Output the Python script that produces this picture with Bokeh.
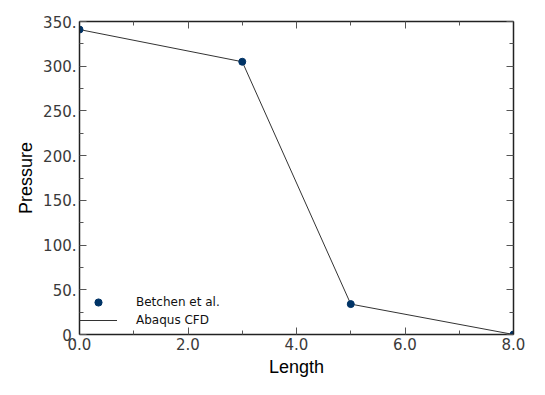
from bokeh.plotting import figure
from bokeh.models import (Range1d, LinearAxis, Legend, LegendItem,
                          PrintfTickFormatter, FixedTicker)
from bokeh.embed import file_html
from bokeh.resources import INLINE

length = [0.0, 3.0, 5.0, 8.0]
betchen = [341.0, 305.0, 34.0, 0.0]
abaqus = [341.0, 305.0, 34.0, 0.0]
x_ticks = [0, 2, 4, 6, 8]
x_minor = [1, 3, 5, 7]
y_ticks = [0, 50, 100, 150, 200, 250, 300, 350]
y_minor = [25, 75, 125, 175, 225, 275, 325]

p = figure(width=529, height=379, output_backend="svg", toolbar_location=None,
           x_range=Range1d(0, 8), y_range=Range1d(0, 350),
           min_border_left=79, min_border_right=16, min_border_top=21,
           min_border_bottom=44, x_axis_label="Length", y_axis_label="Pressure")
p.grid.visible = False
p.outline_line_color = None
p.background_fill_color = "white"

bottom = p.below[0]
left = p.left[0]

ln = p.line(length, abaqus, line_color="#333333", line_width=1)
sc = p.scatter(length, betchen, size=7, fill_color="#003366", line_color="#003366")

top = LinearAxis()
right = LinearAxis()
p.add_layout(top, "above")
p.add_layout(right, "right")

for ax in [bottom, top]:
    ax.ticker = FixedTicker(ticks=x_ticks, minor_ticks=x_minor)
    ax.formatter = PrintfTickFormatter(format="%.1f")
for ax in [left, right]:
    ax.ticker = FixedTicker(ticks=y_ticks, minor_ticks=y_minor)
    ax.formatter = PrintfTickFormatter(format="%d.")

for ax in [bottom, left, top, right]:
    ax.axis_line_color = "#222222"
    ax.axis_line_width = 1.5
    ax.major_tick_in = 7
    ax.major_tick_out = 0
    ax.minor_tick_in = 4
    ax.minor_tick_out = 0
    ax.major_tick_line_color = "#555555"
    ax.minor_tick_line_color = "#555555"
    ax.major_label_text_font = "DejaVu Sans"
    ax.major_label_text_font_size = "15px"
    ax.major_label_text_color = "#3a3a3a"
    ax.major_label_standoff = 3
    ax.axis_label_text_font = "Liberation Sans"
    ax.axis_label_text_font_size = "18px"
    ax.axis_label_text_font_style = "normal"
    ax.axis_label_text_color = "black"
    ax.axis_label_standoff = 4

for ax in [top, right]:
    ax.major_label_text_alpha = 0
    ax.major_label_text_font_size = "1px"
    ax.major_label_standoff = 0

legend = Legend(items=[LegendItem(label="Betchen et al.", renderers=[sc]),
                       LegendItem(label="Abaqus CFD", renderers=[ln])],
                location=(0, 5), padding=0, margin=0, spacing=0,
                border_line_alpha=0, background_fill_alpha=0,
                glyph_width=38, glyph_height=18, label_height=18,
                label_standoff=19, label_text_font="DejaVu Sans",
                label_text_font_size="12px", label_text_color="#111111")
p.add_layout(legend, "center")

open("out.html", "w").write(file_html(p, INLINE))
